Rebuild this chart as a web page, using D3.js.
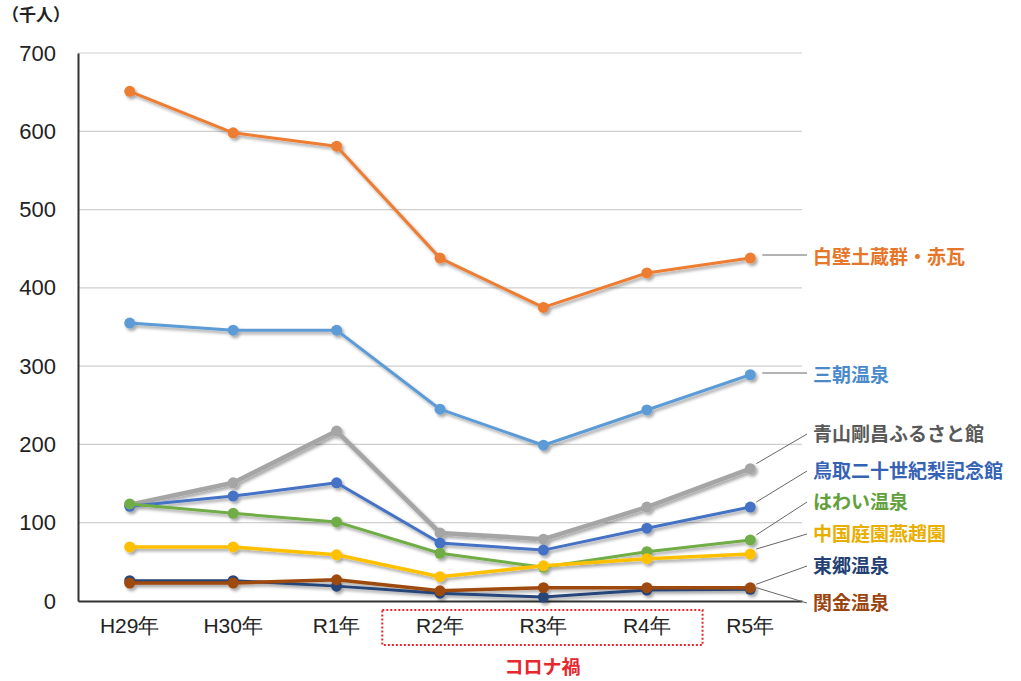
<!DOCTYPE html>
<html>
<head>
<meta charset="utf-8">
<script src="https://cdn.jsdelivr.net/npm/d3@7"></script>
<style>
  body { margin: 0; background: #fff; }
  svg { display: block; font-family: "Noto Sans CJK JP", "Noto Sans", sans-serif; }
</style>
</head>
<body>
<div id="chart"></div>
<script>
// data
const years = ['H29年', 'H30年', 'R1年', 'R2年', 'R3年', 'R4年', 'R5年'];
const seriesNames = [
    '白壁土蔵群・赤瓦', '三朝温泉', '青山剛昌ふるさと館', '鳥取二十世紀梨記念館',
    'はわい温泉', '中国庭園燕趙園', '東郷温泉', '関金温泉',
];
const shirakabe = [651, 598, 581, 438, 375, 419, 438];
const misasa = [355, 346, 346, 245, 199, 244, 289];
const aoyama = [123, 151, 217, 87, 79, 120, 169];
const nashi = [121, 134, 151, 74, 65, 93, 120];
const hawai = [124, 112, 101, 61, 43, 63, 78];
const enchoen = [69, 69, 59, 31, 45, 54, 60];
const togo = [26, 26, 19, 10, 5, 14, 15];
const sekigane = [23, 23, 27, 13, 17, 17, 17];
const yTicks = [0, 100, 200, 300, 400, 500, 600, 700];
const coronaYears = ['R2年', 'R4年'];

const seriesValues = [shirakabe, misasa, aoyama, nashi, hawai, enchoen, togo, sekigane];

// styles
const lineColors = ['#ED7D31', '#5B9BD5', '#A5A5A5', '#4472C4', '#70AD47', '#FFC000', '#264478', '#9E480E'];
const labelColors = ['#E6762A', '#4A8ACB', '#595959', '#3562B5', '#62A03C', '#E8AE00', '#233F73', '#9A4510'];
const lineWidths = [3, 3, 4.5, 3, 3, 3.5, 3, 3.5];
// label layout (pixel y of each label at the right)
const labelY = [255, 373, 432, 469, 500, 532, 564, 601];

const width = 1021;
const height = 681;
const margin = { top: 53, right: 219, bottom: 80, left: 78 };

const svg = d3.select('#chart')
    .append('svg')
    .attr('width', width)
    .attr('height', height);

const defs = svg.append('defs');
const shadow = defs.append('filter')
    .attr('id', 'shadow')
    .attr('x', '-10%').attr('y', '-10%')
    .attr('width', '120%').attr('height', '140%');
shadow.append('feDropShadow')
    .attr('dx', 2).attr('dy', 2.5)
    .attr('stdDeviation', 1.5)
    .attr('flood-color', '#000')
    .attr('flood-opacity', 0.35);

const x = d3.scaleBand()
    .domain(years)
    .range([margin.left, width - margin.right])
    .padding(0);
const xc = (d) => x(d) + x.bandwidth() / 2;

const y = d3.scaleLinear()
    .domain([0, 700])
    .range([height - margin.bottom, margin.top]);

// gridlines
svg.append('g')
    .selectAll('line')
    .data(yTicks.filter((d) => d > 0))
    .enter()
    .append('line')
    .attr('x1', margin.left)
    .attr('x2', width - margin.right)
    .attr('y1', (d) => y(d))
    .attr('y2', (d) => y(d))
    .attr('stroke', '#cfcfcf')
    .attr('stroke-width', 1.2);

// y axis
const yAxis = svg.append('g')
    .attr('transform', `translate(${margin.left},0)`)
    .call(d3.axisLeft(y).tickValues(yTicks).tickSize(0).tickPadding(22));
yAxis.select('.domain').attr('stroke', '#333').attr('stroke-width', 2);
yAxis.selectAll('text')
    .style('font-size', '22px')
    .style('font-weight', '500')
    .attr('fill', '#222');

svg.append('text')
    .attr('x', 2)
    .attr('y', 21)
    .style('font-size', '17px')
    .style('font-weight', '700')
    .attr('fill', '#222')
    .text('（千人）');

// x axis
const xAxis = svg.append('g')
    .attr('transform', `translate(0,${y(0)})`)
    .call(d3.axisBottom(x).tickSize(0).tickPadding(17));
xAxis.select('.domain').attr('stroke', '#333').attr('stroke-width', 2);
xAxis.selectAll('text')
    .style('font-size', '21px')
    .style('font-weight', '500')
    .attr('fill', '#222');

// corona box
const boxX0 = x(coronaYears[0]) - 6;
const boxX1 = x(coronaYears[1]) + x.bandwidth() + 4;
svg.append('rect')
    .attr('x', boxX0)
    .attr('y', 610)
    .attr('width', boxX1 - boxX0)
    .attr('height', 35)
    .attr('fill', 'none')
    .attr('stroke', '#E8262D')
    .attr('stroke-width', 2)
    .attr('stroke-dasharray', '2,2');
svg.append('text')
    .attr('x', (boxX0 + boxX1) / 2)
    .attr('y', 674)
    .attr('text-anchor', 'middle')
    .style('font-size', '19px')
    .style('font-weight', '700')
    .attr('fill', '#E8262D')
    .text('コロナ禍');

// lines
const line = d3.line()
    .x((d, i) => xc(years[i]))
    .y((d) => y(d));

const seriesG = svg.append('g').attr('filter', 'url(#shadow)');
seriesValues.forEach((vals, si) => {
    const g = seriesG.append('g');
    g.append('path')
        .datum(vals)
        .attr('d', line)
        .attr('fill', 'none')
        .attr('stroke', lineColors[si])
        .attr('stroke-width', lineWidths[si])
        .attr('stroke-linejoin', 'round');
    g.selectAll('circle')
        .data(vals)
        .enter()
        .append('circle')
        .attr('cx', (d, i) => xc(years[i]))
        .attr('cy', (d) => y(d))
        .attr('r', 5.5)
        .attr('fill', lineColors[si]);
});

// labels and leader lines
const lastX = xc(years[years.length - 1]);
const labelX = 813;
seriesNames.forEach((name, si) => {
    const vals = seriesValues[si];
    const py = y(vals[vals.length - 1]);
    const flat = Math.abs(py - labelY[si]) < 4;
    svg.append('line')
        .attr('x1', flat ? lastX + 12 : lastX + 6)
        .attr('y1', flat ? labelY[si] : py - (si === 7 ? 0 : 5))
        .attr('x2', labelX - 6)
        .attr('y2', flat ? labelY[si] : labelY[si] + 2)
        .attr('stroke', '#666')
        .attr('stroke-width', 1);
    svg.append('text')
        .attr('x', labelX)
        .attr('y', labelY[si])
        .attr('dominant-baseline', 'central')
        .style('font-size', '19px')
        .style('font-weight', '700')
        .attr('fill', labelColors[si])
        .text(name);
});
</script>
</body>
</html>
